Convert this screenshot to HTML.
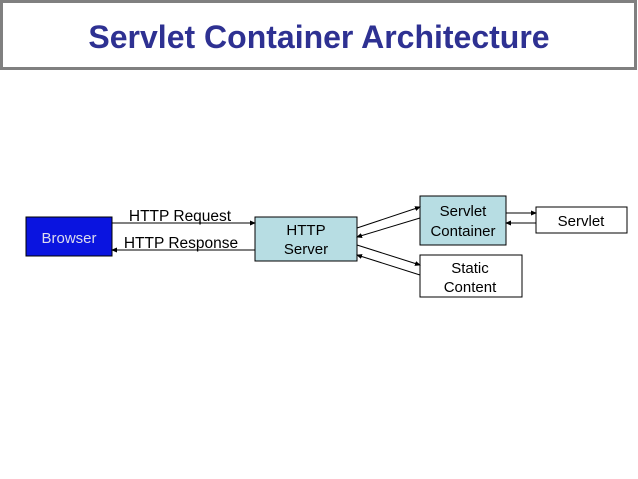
<!DOCTYPE html>
<html><head><style>
html,body{margin:0;padding:0;background:#fff;}
body{width:638px;height:479px;position:relative;overflow:hidden;font-family:"Liberation Sans",sans-serif;}
</style></head><body>
<svg width="638" height="479" xmlns="http://www.w3.org/2000/svg" style="position:absolute;left:0;top:0">
<defs><marker id="a" markerWidth="6" markerHeight="6" refX="5" refY="3" orient="auto" markerUnits="userSpaceOnUse"><path d="M0,0.5 L6,3 L0,5.5 z" fill="#000"/></marker></defs>
<rect x="1.5" y="1.5" width="634" height="67" fill="#fff" stroke="#808080" stroke-width="3"/>
<text x="319" y="48" text-anchor="middle" font-size="32" font-weight="bold" fill="#2e3192">Servlet Container Architecture</text>
<rect x="26" y="217" width="86" height="39" fill="#0a14e0" stroke="#000" stroke-width="1"/>
<text x="69" y="243" text-anchor="middle" font-size="15" fill="#dde">Browser</text>
<rect x="255" y="217" width="102" height="44" fill="#b7dde3" stroke="#000"/>
<text x="306" y="235" text-anchor="middle" font-size="15">HTTP</text>
<text x="306" y="254" text-anchor="middle" font-size="15">Server</text>
<rect x="420" y="196" width="86" height="49" fill="#b7dde3" stroke="#000"/>
<text x="463" y="216" text-anchor="middle" font-size="15">Servlet</text>
<text x="463" y="236" text-anchor="middle" font-size="15">Container</text>
<rect x="536" y="207" width="91" height="26" fill="#fff" stroke="#000"/>
<text x="581" y="226" text-anchor="middle" font-size="15">Servlet</text>
<rect x="420" y="255" width="102" height="42" fill="#fff" stroke="#000"/>
<text x="470" y="273" text-anchor="middle" font-size="15">Static</text>
<text x="470" y="292" text-anchor="middle" font-size="15">Content</text>
<text x="180" y="221" text-anchor="middle" font-size="15.5">HTTP Request</text>
<text x="181" y="248" text-anchor="middle" font-size="15.5">HTTP Response</text>
<g stroke="#000" stroke-width="1" fill="none">
<line x1="112" y1="223" x2="255" y2="223" marker-end="url(#a)"/>
<line x1="255" y1="250" x2="112" y2="250" marker-end="url(#a)"/>
<line x1="357" y1="228" x2="420" y2="207" marker-end="url(#a)"/>
<line x1="420" y1="218" x2="357" y2="237" marker-end="url(#a)"/>
<line x1="357" y1="245" x2="420" y2="265" marker-end="url(#a)"/>
<line x1="420" y1="275" x2="357" y2="255" marker-end="url(#a)"/>
<line x1="506" y1="213" x2="536" y2="213" marker-end="url(#a)"/>
<line x1="536" y1="223" x2="506" y2="223" marker-end="url(#a)"/>
</g>
</svg>
</body></html>
